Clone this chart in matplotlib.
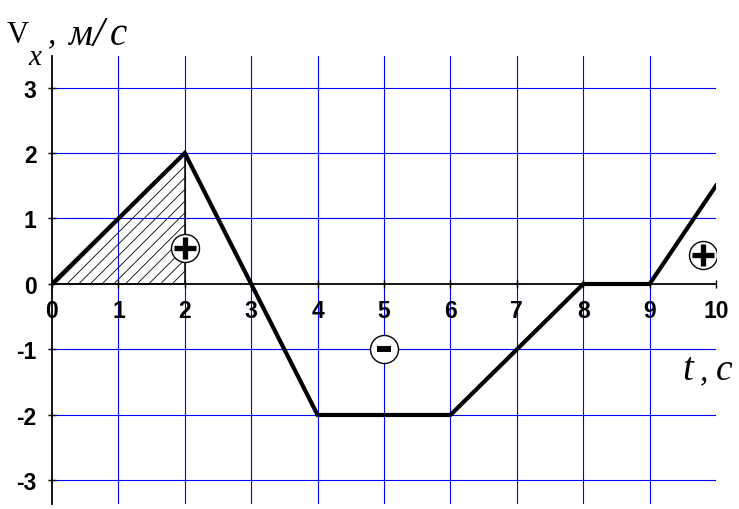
import numpy as np
import matplotlib
matplotlib.use("Agg")
import matplotlib.pyplot as plt
from matplotlib.patches import Polygon

# Data
t = [0, 2, 3, 4, 6, 8, 9, 10]
v = [0, 2, 0, -2, -2, 0, 0, 1.5]
xticks = list(range(0, 11))
yticks = [-3, -2, -1, 0, 1, 2, 3]
plus_x = [2, 9.8]
plus_y = [0.55, 0.45]
minus_x = [5]
minus_y = [-1]

W, H = 739, 510
fig = plt.figure(figsize=(W / 100, H / 100), dpi=100)
ax = fig.add_axes([52 / W, 5 / H, 664 / W, 448 / H])
ax.set_xlim(0, 10)
ax.set_ylim(-3.359, 3.481)

for s in ["top", "right"]:
    ax.spines[s].set_visible(False)
ax.spines["left"].set_position(("data", 0))
ax.spines["bottom"].set_position(("data", 0))
ax.spines["left"].set_linewidth(1.3)
ax.spines["bottom"].set_linewidth(1.3)

ax.set_xticks(xticks)
ax.set_yticks(yticks)
ax.set_xticklabels([str(x) for x in xticks])
ax.set_yticklabels([str(y) for y in yticks])
ax.tick_params(direction="inout", length=6, width=1.0, colors="black")
ax.tick_params(axis="x", pad=8)
ax.tick_params(axis="y", pad=8)
for lab_ in ax.get_xticklabels() + ax.get_yticklabels():
    lab_.set_fontfamily("Liberation Sans")
    lab_.set_fontweight("bold")
    lab_.set_fontsize(16.5)

ax.grid(True, color="#0000ff", lw=0.8)
for i, gl in enumerate(ax.xaxis.get_gridlines()):
    if xticks[i] in (0, 10):
        gl.set_visible(False)
for i, gl in enumerate(ax.yaxis.get_gridlines()):
    if yticks[i] == 0:
        gl.set_visible(False)

# Hatched triangle (area under first segment)
tri = Polygon([(t[0], v[0]), (t[1], v[1]), (t[1], 0)], closed=True,
              facecolor="none", edgecolor="black", lw=0.8, zorder=3)
ax.add_patch(tri)
k = 66.4 / 65.5
for c in np.arange(-4, 2.5, 0.176):
    xs = np.array([-1, 4])
    ln, = ax.plot(xs, k * (xs - c), color="black", lw=0.6, zorder=3)
    ln.set_clip_path(tri)

# Main line
ax.plot(t, v, color="black", lw=3, zorder=4, solid_joinstyle="miter")

# Sign circles
ax.scatter(plus_x + minus_x, plus_y + minus_y, s=(28 * 0.72) ** 2,
           facecolor="white", edgecolor="black", linewidths=1.0, zorder=5)
ax.plot(plus_x, plus_y, ls="none", marker="+", ms=16.5, mew=3.8,
        color="black", zorder=6)
ax.plot(minus_x, minus_y, ls="none", marker="_", ms=10.5, mew=4.3,
        color="black", zorder=6)

# Axis labels
def px(x, y):
    return x / W, 1 - y / H

serif = "Liberation Serif"
def lab(x, y, s, size=24, style="italic"):
    fig.text(*px(x, y), s, fontfamily=serif, fontstyle=style, fontsize=size,
             ha="left", va="baseline")

lab(7, 43, "V", size=22, style="normal")
lab(28, 65, "x", size=21)
lab(48, 43, ",", size=24)
lab(68, 45, "м", size=27)
lab(93, 46, "/", size=30)
lab(110, 45, "с", size=28)
lab(682, 380, "t", size=28)
lab(700, 380, ",", size=24)
lab(716, 380, "с", size=27)

fig.savefig("out.png", dpi=100)
